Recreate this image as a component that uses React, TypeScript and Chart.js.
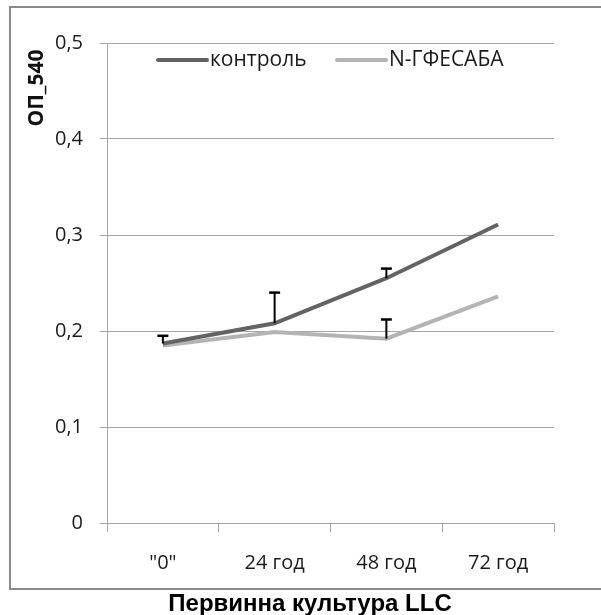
import React, { useEffect, useRef } from "react";
import { Chart, registerables } from "chart.js";

Chart.register(...registerables);

const categories = ['"0"', "24 год", "48 год", "72 год"];
const controlValues = [0.187, 0.208, 0.255, 0.311];
const treatedValues = [0.185, 0.199, 0.192, 0.236];
const controlErr = [0.008, 0.032, 0.01, 0];
const treatedErr = [0, 0, 0.02, 0];
const seriesNames = ["контроль", "N-ГФЕСАБА"];
const seriesColors = ["#636363", "#b4b4b4"];
const yTickValues = [0, 0.1, 0.2, 0.3, 0.4, 0.5];
const yTitle = "ОП_540";
const chartTitle = "Первинна культура LLC";

const FONT = "'Open Sans', sans-serif";

const decorPlugin = {
  id: "decor",
  beforeDraw(chart: any) {
    const ctx = chart.ctx;
    ctx.save();
    ctx.fillStyle = "#ffffff";
    ctx.fillRect(0, 0, chart.width, chart.height);
    ctx.strokeStyle = "#8a8a8a";
    ctx.lineWidth = 2;
    ctx.strokeRect(10, 7, 640, 582);
    ctx.restore();
  },
  afterDraw(chart: any) {
    const ctx = chart.ctx;
    const area = chart.chartArea;
    ctx.save();
    // y title
    ctx.translate(37, 88);
    ctx.rotate(-Math.PI / 2);
    ctx.font = `bold 21px ${FONT}`;
    ctx.fillStyle = "#111";
    ctx.textAlign = "center";
    ctx.textBaseline = "middle";
    ctx.fillText(yTitle, 0, 0);
    ctx.restore();

    ctx.save();
    ctx.font = `bold 24px 'Liberation Sans', Arial, sans-serif`;
    ctx.fillStyle = "#000";
    ctx.textAlign = "center";
    ctx.textBaseline = "middle";
    ctx.fillText(chartTitle, 310, 604);
    ctx.restore();

    // legend
    ctx.save();
    ctx.font = `21px ${FONT}`;
    ctx.textBaseline = "middle";
    const legendY = area.top + 17;
    const starts = [158, 337];
    seriesNames.forEach((name, i) => {
      const x0 = starts[i];
      ctx.strokeStyle = seriesColors[i];
      ctx.lineWidth = 4;
      ctx.lineCap = "round";
      ctx.beginPath();
      ctx.moveTo(x0, legendY);
      ctx.lineTo(x0 + 49, legendY);
      ctx.stroke();
      ctx.fillStyle = "#1a1a1a";
      ctx.textAlign = "left";
      ctx.fillText(name, x0 + 52, legendY);
    });
    ctx.restore();
  },
  afterDatasetsDraw(chart: any) {
    const ctx = chart.ctx;
    const yScale = chart.scales.y;
    const errs = [controlErr, treatedErr];
    const vals = [controlValues, treatedValues];
    ctx.save();
    ctx.strokeStyle = "#000";
    ctx.lineCap = "butt";
    errs.forEach((errArr, di) => {
      const meta = chart.getDatasetMeta(di);
      errArr.forEach((e, j) => {
        if (!e) return;
        const x = meta.data[j].x;
        const y0 = yScale.getPixelForValue(vals[di][j]);
        const y1 = yScale.getPixelForValue(vals[di][j] + e);
        ctx.lineWidth = 2;
        ctx.beginPath();
        ctx.moveTo(x, y0);
        ctx.lineTo(x, y1);
        ctx.stroke();
        ctx.lineWidth = 2.5;
        ctx.beginPath();
        ctx.moveTo(x - 5.5, y1);
        ctx.lineTo(x + 5.5, y1);
        ctx.stroke();
      });
    });
    ctx.restore();
  },
};

export default function App() {
  const canvasRef = useRef<HTMLCanvasElement | null>(null);

  useEffect(() => {
    if (!canvasRef.current) return;
    const chart = new Chart(canvasRef.current, {
      type: "line",
      data: {
        labels: categories,
        datasets: [
          {
            label: seriesNames[0],
            data: controlValues,
            borderColor: seriesColors[0],
            borderWidth: 4,
            pointRadius: 0,
            tension: 0,
            fill: false,
          },
          {
            label: seriesNames[1],
            data: treatedValues,
            borderColor: seriesColors[1],
            borderWidth: 4,
            pointRadius: 0,
            tension: 0,
            fill: false,
          },
        ],
      },
      options: {
        animation: false,
        responsive: false,
        devicePixelRatio: 1,
        layout: { padding: { left: 0, top: 43, right: 47, bottom: 0 } },
        plugins: {
          legend: { display: false },
          tooltip: { enabled: false },
          title: { display: false },
        },
        scales: {
          x: {
            type: "category",
            offset: true,
            grid: {
              offset: true,
              drawOnChartArea: false,
              drawTicks: true,
              tickLength: 9,
              color: "#a6a6a6",
              lineWidth: 1,
            },
            border: { display: true, color: "#a6a6a6", width: 1 },
            ticks: {
              color: "#1a1a1a",
              font: { family: FONT, size: 20 },
              padding: 19,
              maxRotation: 0,
            },
            afterFit: (s: any) => {
              s.height = 92;
            },
          },
          y: {
            min: 0,
            max: 0.5,
            afterBuildTicks: (s: any) => {
              s.ticks = yTickValues.map((v) => ({ value: v }));
            },
            grid: {
              color: "#a6a6a6",
              lineWidth: 1,
              drawTicks: true,
              tickLength: 7,
            },
            border: { display: true, color: "#a6a6a6", width: 1 },
            ticks: {
              color: "#1a1a1a",
              font: { family: FONT, size: 20 },
              padding: 17,
              callback: (v: any) => (v === 0 ? "0" : Number(v).toFixed(1).replace(".", ",")),
            },
            afterFit: (s: any) => {
              s.width = 107;
            },
          },
        },
      },
      plugins: [decorPlugin],
    });
    return () => chart.destroy();
  }, []);

  return (
    <div style={{ position: "absolute", left: 0, top: 0, width: 601, height: 615 }}>
      <canvas ref={canvasRef} width={601} height={615} style={{ display: "block" }} />
    </div>
  );
}
